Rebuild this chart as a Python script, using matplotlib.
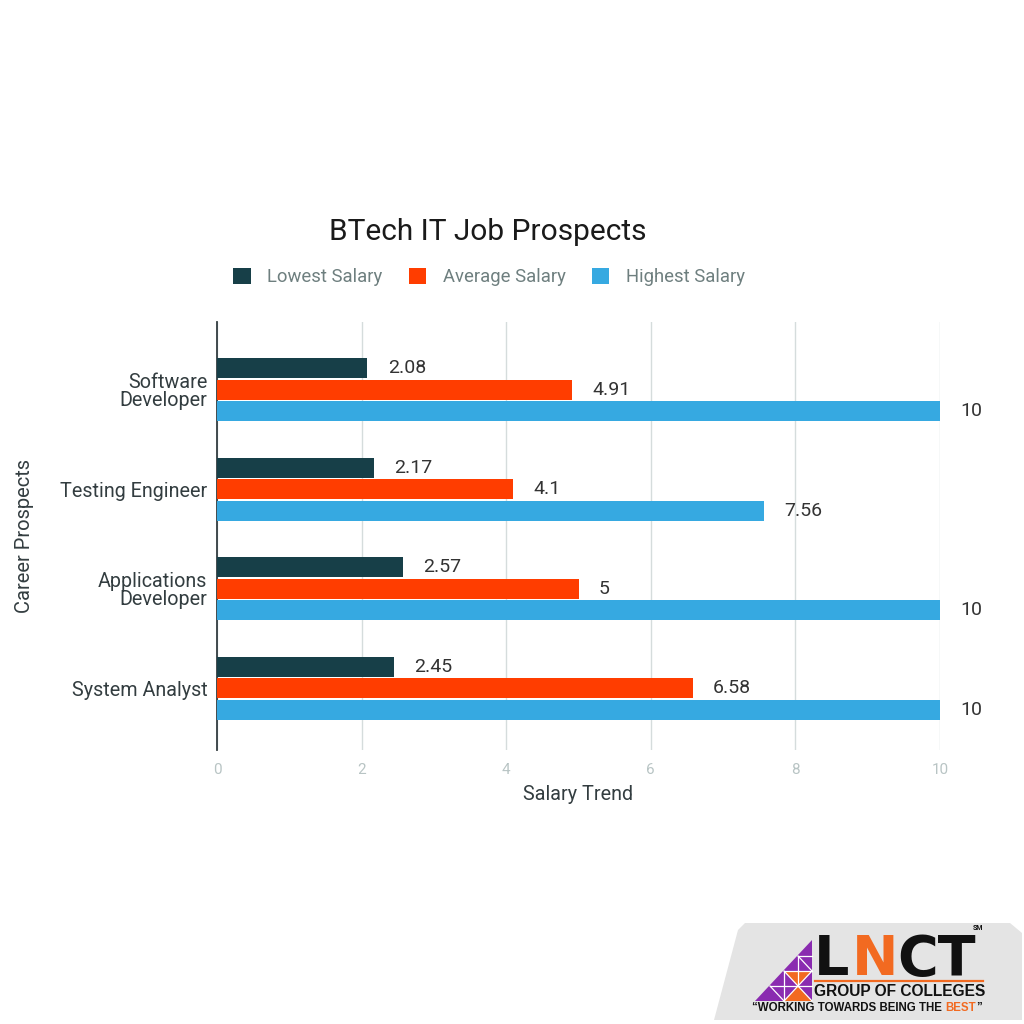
import matplotlib.pyplot as plt
from matplotlib.patches import Polygon
import numpy as np

plt.rcParams['font.family'] = ['Roboto', 'DejaVu Sans']

# data
categories = ['Software\nDeveloper', 'Testing Engineer', 'Applications\nDeveloper', 'System Analyst']
lowest = [2.08, 2.17, 2.57, 2.45]
average = [4.91, 4.1, 5, 6.58]
highest = [10, 7.56, 10, 10]
series_names = ['Lowest Salary', 'Average Salary', 'Highest Salary']
x_ticks = [0, 2, 4, 6, 8, 10]

COLORS = ['#173f48', '#ff3d00', '#36a9e1']

fig = plt.figure(figsize=(10.24, 10.24), dpi=100)
ax = fig.add_axes([217/1024, 1 - 750/1024, 723/1024, 428/1024])

y = np.arange(len(categories))
offsets = [-0.215, 0, 0.215]
bar_h = 0.2

for vals, off, col, name in zip([lowest, average, highest], offsets, COLORS, series_names):
    bars = ax.barh(y + off, vals, height=bar_h, color=col, label=name, zorder=3)
    for b, v in zip(bars, vals):
        ax.text(v + 0.28, b.get_y() + b.get_height() / 2, f'{v:g}',
                ha='left', va='center', fontsize=14, color='#333333', clip_on=False)

ax.set_xlim(0, 10)
ax.set_ylim(3.62, -0.68)
ax.set_yticks(y)
ax.set_yticklabels(categories, fontsize=14.2, color='#333d40', linespacing=0.95)
ax.set_xticks(x_ticks)
ax.set_xticklabels([str(t) for t in x_ticks], fontsize=11, color='#b8c4c4')
ax.tick_params(axis='x', length=0, pad=9)
ax.tick_params(axis='y', length=0, pad=7)
ax.grid(axis='x', color='#d5dcdc', linewidth=1, zorder=0)
for s in ['top', 'right', 'bottom']:
    ax.spines[s].set_visible(False)
ax.spines['left'].set_color('#333d40')
ax.spines['left'].set_linewidth(1.3)

ax.set_xlabel('Salary Trend', fontsize=14.2, color='#333d40')
ax.xaxis.set_label_coords(0.5, -0.082)
ax.set_ylabel('Career Prospects', fontsize=14.5, color='#333d40')
ax.yaxis.set_label_coords(-0.253, 0.5)

fig.text(488/1024, 1 - 232/1024, 'BTech IT Job Prospects', ha='center', va='center',
         fontsize=21.5, color='#1a1a1a')

leg = fig.legend(loc='center', bbox_to_anchor=(489/1024, 1 - 277/1024), ncol=3, frameon=False,
                 fontsize=13.3, handlelength=0.95, handleheight=1.0, columnspacing=1.4,
                 handletextpad=0.9)
for t in leg.get_texts():
    t.set_color('#6e7f7f')

# logo overlay in pixel coordinates
lax = fig.add_axes([0, 0, 1, 1], zorder=5)
lax.set_xlim(0, 1024)
lax.set_ylim(1024, 0)
lax.axis('off')
lax.patch.set_alpha(0)

bg = Polygon([(745, 923), (1010, 923), (1022, 933), (1022, 1020), (714, 1020), (738, 930)],
             closed=True, facecolor='#e4e4e4', edgecolor='none')
lax.add_patch(bg)

# triangle of the logo
purple = '#8a2bb0'
orange = '#f26a21'
lax.add_patch(Polygon([(755, 1001), (812, 1001), (812, 940)], closed=True,
                      facecolor=purple, edgecolor='none'))
lax.add_patch(Polygon([(784, 971), (812, 971), (812, 1001), (784, 1001)], closed=True,
                      facecolor=orange, edgecolor='none'))
lax.add_patch(Polygon([(784, 971), (798, 986), (784, 1001)], closed=True,
                      facecolor=purple, edgecolor='none'))
lax.add_patch(Polygon([(812, 971), (798, 986), (812, 1001)], closed=True,
                      facecolor=purple, edgecolor='none'))
for seg in [[(770, 986), (812, 986)], [(784, 971), (812, 971)], [(798, 956), (812, 956)],
            [(784, 971), (812, 1001)], [(812, 971), (784, 1001)], [(770, 986), (784, 1001)],
            [(798, 956), (812, 971)], [(784, 971), (784, 1001)], [(798, 956), (798, 986)]]:
    xs, ys = zip(*seg)
    lax.plot(xs, ys, color='white', lw=0.9)

lax.text(814, 960, 'L', fontsize=40, fontweight='bold', color='#111111', ha='left', va='center',
         family='DejaVu Sans')
lax.text(852, 960, 'N', fontsize=40, fontweight='bold', color=orange, ha='left', va='center',
         family='DejaVu Sans')
lax.text(897, 960, 'CT', fontsize=40, fontweight='bold', color='#111111', ha='left', va='center',
         family='DejaVu Sans')
lax.text(978, 928, 'SM', fontsize=5, fontweight='bold', color='#111111', ha='center', va='center')
lax.plot([815, 983], [981, 981], color=orange, lw=1.6)
lax.text(900, 992, 'GROUP OF COLLEGES', fontsize=11.2, fontweight='bold', color='#111111',
         ha='center', va='center', family=['Liberation Sans Narrow', 'Liberation Sans'])
tag = lax.text(752, 1008, '\u201cWORKING TOWARDS BEING THE', fontsize=8.3, fontweight='bold',
               color='#111111', ha='left', va='center', family='Liberation Sans')
best = lax.annotate('BEST', xy=(1, 0.5), xycoords=tag, xytext=(2.5, 0), textcoords='offset points',
                    fontsize=8.3, fontweight='bold', color=orange, ha='left', va='center',
                    family='Liberation Sans')
lax.annotate('\u201d', xy=(1, 0.5), xycoords=best, xytext=(0.3, 0), textcoords='offset points',
             fontsize=8.3, fontweight='bold', color='#111111', ha='left', va='center',
             family='Liberation Sans')

fig.savefig('out.png', dpi=100, facecolor='white')
